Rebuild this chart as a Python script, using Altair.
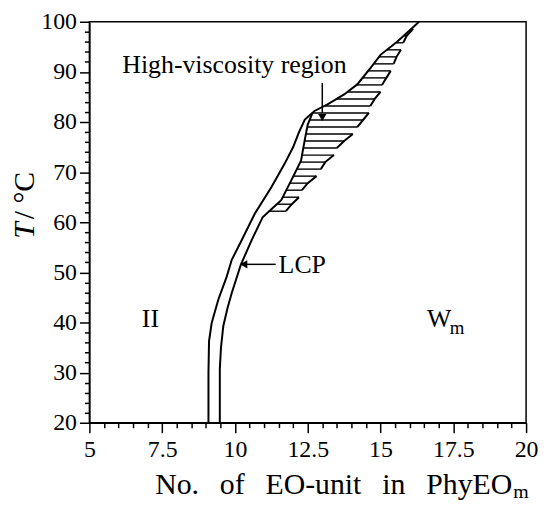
import altair as alt
import pandas as pd

# ---- data ----
outer_x = [9.09, 9.09, 9.11, 9.2, 9.43, 9.72, 9.89, 10.23, 10.68, 11.25, 11.7, 12.0, 12.2, 12.4,
           12.73, 13.18, 13.75, 14.2, 14.66, 15.0, 15.57, 16.25, 16.32]
outer_y = [20, 30, 36.3, 39.9, 44.6, 49.2, 52.5, 56.4, 61.7, 67, 71.6, 75, 78, 80.5,
           82.2, 83.5, 85.5, 87.5, 90.8, 93.4, 96, 99.6, 100]
inner_x = [9.48, 9.48, 9.52, 9.6, 9.75, 9.89, 10.2, 10.57, 10.95, 11.25, 11.59, 11.93, 12.27,
           12.39, 12.5, 12.65]
inner_y = [20, 30.7, 35, 39.3, 43, 45.9, 51.5, 56.4, 61.0, 62.6, 64.4, 68.3, 72.3,
           76.2, 79.5, 81.6]

hatch_y = [62.2, 63.6, 65.0, 66.4, 67.8, 69.2, 70.6, 72.0, 73.4, 74.8, 76.2, 77.6, 79.0, 80.4,
           81.8, 83.2, 84.6, 86.0, 87.4, 88.8, 90.2, 91.6, 93.0, 94.4, 95.8, 97.2, 98.6]
hatch_left = [11.15, 11.45, 11.64, 11.76, 11.89, 12.0, 12.13, 12.25, 12.3, 12.35, 12.39, 12.44,
              12.48, 12.56, 12.67, 13.08, 13.5, 13.86, 14.18, 14.39, 14.58, 14.77, 14.95,
              15.22, 15.53, 15.8, 16.06]
hatch_right = [11.75, 11.95, 12.2, 12.3, 12.5, 12.8, 12.95, 13.1, 13.4, 13.5, 13.75, 14.05,
               14.2, 14.4, 14.6, 14.65, 14.8, 15.0, 15.05, 15.2, 15.35, 15.45, 15.55, 15.7,
               15.78, 15.9, 16.12]
hatch_group = [0, 0, 0, 1, 1, 1, 2, 2, 2, 3, 3, 3, 4, 4, 4, 5, 5, 5, 6, 6, 6, 7, 7, 7, 8, 8, 8]

x_major = [5, 7.5, 10, 12.5, 15, 17.5, 20]
x_minor = [5.5, 6, 6.5, 7, 8, 8.5, 9, 9.5, 10.5, 11, 11.5, 12, 13, 13.5, 14, 14.5,
           15.5, 16, 16.5, 17, 18, 18.5, 19, 19.5]
y_major = [20, 30, 40, 50, 60, 70, 80, 90, 100]
y_minor = [22, 24, 26, 28, 32, 34, 36, 38, 42, 44, 46, 48, 52, 54, 56, 58, 62, 64, 66, 68,
           72, 74, 76, 78, 82, 84, 86, 88, 92, 94, 96, 98]

FONT = "Liberation Serif"

curves = pd.concat([
    pd.DataFrame({"x": outer_x, "y": outer_y, "curve": "outer", "i": range(len(outer_x))}),
    pd.DataFrame({"x": inner_x, "y": inner_y, "curve": "inner", "i": range(len(inner_x))}),
])
hatch = pd.DataFrame({"y": hatch_y, "x": hatch_left, "x2": hatch_right, "g": hatch_group})

xs = alt.Scale(domain=[5, 20], nice=False, zero=False)
ys = alt.Scale(domain=[20, 100], nice=False, zero=False)

axis_common = dict(grid=False, title=None, domainColor="black", domainWidth=1.5,
                   tickColor="black", tickWidth=1.5, labelColor="black",
                   labelFont=FONT, labelFontSize=24, labelFlush=False)

x_axis_major = alt.Axis(values=x_major, format=".1~f", tickSize=10, labelPadding=5,
                        orient="bottom", **axis_common)
y_axis_major = alt.Axis(values=y_major, format="d", tickSize=10, labelPadding=3,
                        orient="left", **axis_common)
x_axis_minor = alt.Axis(values=x_minor, tickSize=5, labels=False, domain=False, grid=False,
                        title=None, tickColor="black", tickWidth=1.5, orient="bottom")
y_axis_minor = alt.Axis(values=y_minor, tickSize=5, labels=False, domain=False, grid=False,
                        title=None, tickColor="black", tickWidth=1.5, orient="left")

lines = alt.Chart(curves).mark_line(color="black", strokeWidth=2).encode(
    x=alt.X("x:Q", scale=xs, axis=x_axis_major),
    y=alt.Y("y:Q", scale=ys, axis=y_axis_major),
    detail="curve:N",
    order="i:Q",
)

minor = alt.Chart(pd.DataFrame({"x": [5], "y": [20]})).mark_point(opacity=0).encode(
    x=alt.X("x:Q", scale=xs, axis=x_axis_minor),
    y=alt.Y("y:Q", scale=ys, axis=y_axis_minor),
)

hatch_rules = alt.Chart(hatch).mark_rule(color="black", strokeWidth=1.4).encode(
    x=alt.X("x:Q", scale=xs, axis=None),
    x2="x2:Q",
    y=alt.Y("y:Q", scale=ys, axis=None),
)
hatch_edge = alt.Chart(hatch).mark_line(color="black", strokeWidth=2).encode(
    x=alt.X("x2:Q", scale=xs, axis=None),
    y=alt.Y("y:Q", scale=ys, axis=None),
    detail="g:N",
    order="y:Q",
)

# annotations
ann = pd.DataFrame({
    "x": [6.13, 11.5, 6.8, 16.6],
    "y": [91.4, 51.4, 40.7, 40.7],
    "t": ["High-viscosity region", "LCP", "II", "W"],
})
ann_text = alt.Chart(ann).mark_text(font=FONT, fontSize=26, align="left", baseline="middle",
                                    color="black").encode(
    x=alt.X("x:Q", scale=xs, axis=None),
    y=alt.Y("y:Q", scale=ys, axis=None),
    text="t:N",
)
sub_m = alt.Chart(pd.DataFrame({"x": [17.38], "y": [38.8], "t": ["m"]})).mark_text(
    font=FONT, fontSize=19, align="left", baseline="middle", color="black").encode(
    x=alt.X("x:Q", scale=xs, axis=None),
    y=alt.Y("y:Q", scale=ys, axis=None),
    text="t:N",
)

arrows = pd.DataFrame({"x": [13.0, 11.4], "x2": [13.0, 10.35], "y": [87.8, 51.6], "y2": [81.8, 51.6]})
arrow_lines = alt.Chart(arrows).mark_rule(color="black", strokeWidth=1.5).encode(
    x=alt.X("x:Q", scale=xs, axis=None), x2="x2:Q",
    y=alt.Y("y:Q", scale=ys, axis=None), y2="y2:Q",
)
heads = pd.DataFrame({"x": [13.0, 10.3], "y": [80.9, 51.6], "s": ["triangle-down", "triangle-left"]})
arrow_heads = alt.Chart(heads).mark_point(filled=True, color="black", opacity=1, size=70).encode(
    x=alt.X("x:Q", scale=xs, axis=None),
    y=alt.Y("y:Q", scale=ys, axis=None),
    shape=alt.Shape("s:N", scale=None),
)

# axis titles as text (subscript / italic parts)
SP = "\u2002\u2009"
one = pd.DataFrame({"a": [0]})
xt_main = alt.Chart(one).mark_text(font=FONT, fontSize=30, align="right", baseline="alphabetic",
                                   color="black").encode(
    x=alt.value(426), y=alt.value(476),
    text=alt.value("No." + SP + "of" + SP + "EO-unit" + SP + "in" + SP + "PhyEO"))
xt_sub = alt.Chart(one).mark_text(font=FONT, fontSize=20, align="left", baseline="alphabetic",
                                  color="black").encode(
    x=alt.value(427), y=alt.value(480), text=alt.value("m"))
yt_T = alt.Chart(one).mark_text(font=FONT, fontSize=30, fontStyle="italic", align="right",
                                baseline="middle", angle=270, color="black").encode(
    x=alt.value(-65), y=alt.value(202), text=alt.value("T"))
yt_rest = alt.Chart(one).mark_text(font=FONT, fontSize=30, align="left",
                                   baseline="middle", angle=270, color="black").encode(
    x=alt.value(-65), y=alt.value(199), text=alt.value(" / \u00b0C"))

chart = alt.layer(
    minor, lines, hatch_rules, hatch_edge, arrow_lines, arrow_heads, ann_text, sub_m,
    xt_main, xt_sub, yt_T, yt_rest,
).resolve_axis(x="independent", y="independent").properties(
    width=440, height=404,
    autosize=alt.AutoSizeParams(type="none"),
    padding={"left": 82, "top": 12, "right": 12, "bottom": 78},
).configure_view(stroke="black", strokeWidth=1.5)

chart.save("out.html", embed_options={"renderer": "svg", "actions": False})
